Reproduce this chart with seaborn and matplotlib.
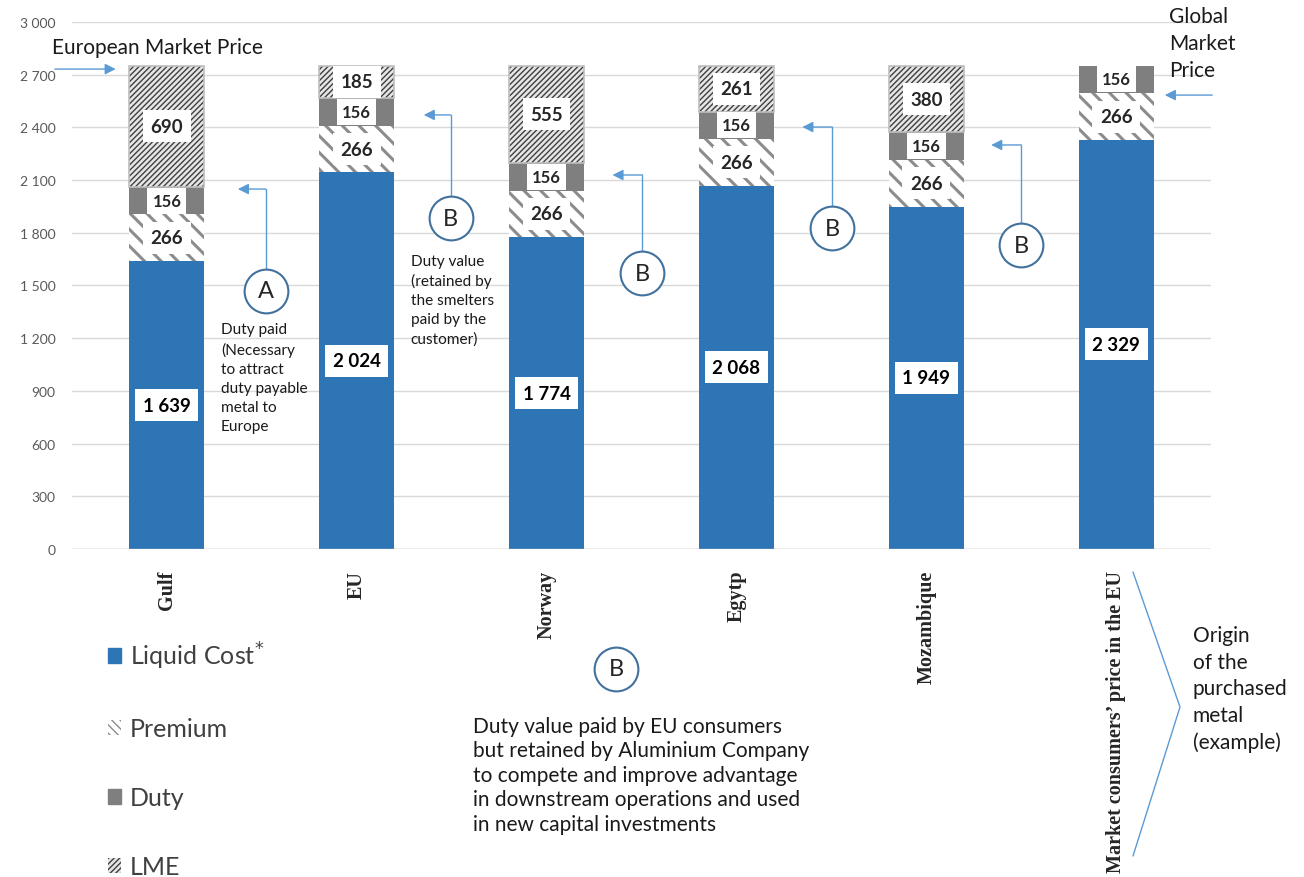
import numpy as np
import pandas as pd
import matplotlib.pyplot as plt
import seaborn as sns
from matplotlib.patches import Patch
from matplotlib.ticker import FuncFormatter

# data
origins = ["Gulf", "EU", "Norway", "Egytp", "Mozambique", "Market consumers\u2019 price in the EU"]
liquid = [1639, 2144, 1774, 2068, 1949, 2329]   # EU bar drawn ~2144 but labelled 2 024
liquid_labels = ["1 639", "2 024", "1 774", "2 068", "1 949", "2 329"]
premium = [266, 266, 266, 266, 266, 266]
duty = [156, 156, 156, 156, 156, 156]
lme = [690, 185, 555, 261, 380, 0]

sns.set_theme(style="white")
plt.rcParams['font.family'] = ['Lato', 'DejaVu Sans']

df = pd.DataFrame({"origin": origins, "liquid": liquid, "premium": premium,
                   "duty": duty, "lme": lme})
df["b_prem"] = df["liquid"]
df["b_duty"] = df["liquid"] + df["premium"]
df["b_lme"] = df["b_duty"] + df["duty"]

fig = plt.figure(figsize=(13.04, 8.78), dpi=100)
ax = fig.add_axes([0.0552, 0.3736, 0.8735, 0.6002])

blue = "#2E75B6"
W = 0.395
sns.barplot(data=df, x="origin", y="liquid", color=blue, saturation=1,
            width=W, edgecolor=blue, linewidth=0, ax=ax)

with plt.rc_context({"hatch.linewidth": 2.2}):
    sns.barplot(data=df, x="origin", y="premium", bottom=df["b_prem"], color="white",
                saturation=1, width=W, edgecolor="#8C8C8C", linewidth=0,
                hatch="\\\\", ax=ax)
sns.barplot(data=df, x="origin", y="duty", bottom=df["b_duty"], color="#7F7F7F",
            saturation=1, width=W, linewidth=0, ax=ax)
with plt.rc_context({"hatch.linewidth": 1.0}):
    sns.barplot(data=df[df["lme"] > 0], x="origin", y="lme", bottom=df.loc[df["lme"] > 0, "b_lme"],
                order=origins, color="#E6E6E6", saturation=1, width=W,
                edgecolor="#404040", linewidth=0, hatch="//////", ax=ax)

# light border on LME blocks
for i, (b, h) in enumerate(zip(df["b_lme"], lme)):
    if h > 0:
        ax.add_patch(plt.Rectangle((i - W / 2, b), W, h, fill=False,
                                   edgecolor="#BFBFBF", lw=1.2, zorder=3))

box = dict(boxstyle="square,pad=0.4", fc="white", ec="none")
for i in range(len(origins)):
    ax.text(i, liquid[i] / 2, liquid_labels[i], ha="center", va="center",
            fontsize=13.5, fontweight="bold", color="black", bbox=box, zorder=5)
    ax.text(i, df["b_prem"][i] + premium[i] / 2, str(premium[i]), ha="center",
            va="center", fontsize=13.5, fontweight="bold", bbox=box, zorder=5)
    ax.text(i, df["b_duty"][i] + duty[i] / 2, str(duty[i]), ha="center",
            va="center", fontsize=12, fontweight="bold",
            bbox=dict(boxstyle="square,pad=0.3", fc="white", ec="none"), zorder=5)
    if lme[i] > 0:
        ax.text(i, df["b_lme"][i] + lme[i] / 2, str(lme[i]), ha="center",
                va="center", fontsize=13.5, fontweight="bold", bbox=box, zorder=5)

ax.set_ylim(0, 3000)
ax.set_xlim(-0.5, 5.5)
ax.set_yticks(np.arange(0, 3001, 300))
ax.yaxis.set_major_formatter(FuncFormatter(lambda v, p: f"{int(v):,}".replace(",", " ")))
ax.grid(axis="y", color="#D9D9D9", lw=1)
ax.set_axisbelow(True)
for s in ax.spines.values():
    s.set_visible(False)
ax.axhline(0, color="#BFBFBF", lw=1, zorder=1)
ax.set_xlabel("")
ax.set_ylabel("")
ax.tick_params(axis="y", length=0, pad=12, labelsize=10, labelcolor="#595959")
ax.tick_params(axis="x", length=0, pad=15)
ax.set_xticks(range(len(origins)))
ax.set_xticklabels(origins, rotation=90, va="top", ha="center",
                   family="Liberation Serif", fontweight="bold", fontsize=14.5)

# annotations
acol = "#5B9BD5"
ax.text(-0.605, 2860, "European Market Price", fontsize=15, va="center", ha="left",
        color="#1a1a1a")
ax.annotate("", xy=(-0.255, 2732), xytext=(-0.605, 2732), annotation_clip=False,
            arrowprops=dict(arrowstyle="-|>", color=acol, lw=1, mutation_scale=16))
ax.text(5.279, 3092, "Global\nMarket\nPrice", fontsize=15, va="top", ha="left",
        linespacing=1.44, color="#1a1a1a")
ax.annotate("", xy=(5.242, 2584), xytext=(5.521, 2584), annotation_clip=False,
            arrowprops=dict(arrowstyle="-|>", color=acol, lw=1, mutation_scale=16))

circles = [("A", 0.52, 1469, 0.374, 2049),
           ("B", 1.495, 1884, 1.353, 2471),
           ("B", 2.505, 1571, 2.347, 2129),
           ("B", 3.505, 1827, 3.347, 2402),
           ("B", 4.5, 1730, 4.342, 2300)]
for letter, cx, cy, tx, ty in circles:
    top = cy + 125
    ax.plot([cx, cx], [top, ty], color=acol, lw=1, zorder=4)
    ax.annotate("", xy=(tx, ty), xytext=(cx, ty),
                arrowprops=dict(arrowstyle="-|>", color=acol, lw=1, mutation_scale=16,
                                shrinkA=0, shrinkB=0))
    ax.plot(cx, cy, "o", ms=31.5, mfc="white", mec="#41719C", mew=1.5, zorder=6)
    ax.text(cx, cy, letter, ha="center", va="center", fontsize=17, zorder=7)

ax.plot(2.368, -683, "o", ms=31.5, mfc="white", mec="#41719C", mew=1.5, clip_on=False, zorder=6)
ax.text(2.368, -683, "B", ha="center", va="center", fontsize=17, zorder=7)

ax.text(0.284, 1290, "Duty paid\n(Necessary\nto attract\nduty payable\nmetal to\nEurope",
        fontsize=11.1, va="top", ha="left", linespacing=1.45, color="#1a1a1a")
ax.text(1.284, 1680, "Duty value\n(retained by\nthe smelters\npaid by the\ncustomer)",
        fontsize=11.1, va="top", ha="left", linespacing=1.45, color="#1a1a1a")

fig.text(473 / 1304, 1 - 717 / 878,
         "Duty value paid by EU consumers\nbut retained by Aluminium Company\n"
         "to compete and improve advantage\nin downstream operations and used\n"
         "in new capital investments",
         fontsize=15, va="top", ha="left", linespacing=1.28, color="#1a1a1a")

# brace on the right
fig.add_artist(plt.Line2D([1133 / 1304, 1180 / 1304, 1133 / 1304],
                          [1 - 573 / 878, 1 - 708 / 878, 1 - 857 / 878],
                          color=acol, lw=1))
fig.text(1193 / 1304, 1 - 626 / 878, "Origin\nof the\npurchased\nmetal\n(example)",
         fontsize=15, va="top", ha="left", linespacing=1.415, color="#1a1a1a")

# legend
handles = [Patch(facecolor=blue, edgecolor=blue),
           Patch(facecolor="white", edgecolor="#8C8C8C", hatch="\\\\\\\\", lw=0),
           Patch(facecolor="#7F7F7F", edgecolor="#7F7F7F"),
           Patch(facecolor="#E6E6E6", edgecolor="#404040", hatch="//////", lw=0)]
labels = ["Liquid Cost$^{*}$", "Premium", "Duty", "LME"]
fig.legend(handles, labels, loc="upper left", bbox_to_anchor=(0.0825, 1 - 641 / 878),
           frameon=False, fontsize=18, labelspacing=1.84, handlelength=0.55,
           handleheight=0.55, handletextpad=0.35, borderpad=0, borderaxespad=0,
           labelcolor="#404040")

fig.savefig("out.png", dpi=100)
